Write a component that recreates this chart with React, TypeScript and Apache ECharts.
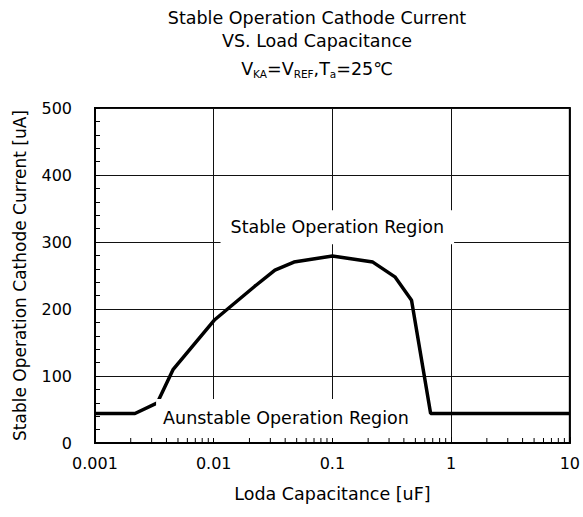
import React, { useEffect, useRef } from 'react';
import * as echarts from 'echarts';

// Load capacitance [uF] and stable operation cathode current [uA]
const capacitance = [0.001, 0.00217, 0.00335, 0.00456, 0.0102, 0.0222, 0.0328, 0.0474, 0.1, 0.219, 0.336, 0.464, 0.672, 10];
const current = [44, 44, 60, 110, 184, 234, 258, 270, 279, 270, 248, 213, 44, 44];

// Log-axis minor tick values (2..9 in each decade)
const minorTickValues = [
  0.002, 0.003, 0.004, 0.005, 0.006, 0.007, 0.008, 0.009,
  0.02, 0.03, 0.04, 0.05, 0.06, 0.07, 0.08, 0.09,
  0.2, 0.3, 0.4, 0.5, 0.6, 0.7, 0.8, 0.9,
  2, 3, 4, 5, 6, 7, 8, 9,
];

// Region annotations (anchor in data coordinates)
const regionLabels = ['Stable Operation Region', 'Aunstable Operation Region'];
const regionLabelX = [0.11, 0.0406];
const regionLabelY = [322, 36.6];

const titleLines = ['Stable Operation Cathode Current', 'VS. Load Capacitance'];
const xAxisName = 'Loda Capacitance [uF]';
const yAxisName = 'Stable Operation Cathode Current [uA]';

const FONT = 'DejaVu Sans';

export default function App() {
  const ref = useRef<HTMLDivElement>(null);

  useEffect(() => {
    if (!ref.current) return;
    const chart = echarts.init(ref.current, undefined, { renderer: 'svg' });
    const titleStyle = {
      fontFamily: FONT,
      fontSize: 17.5,
      fontWeight: 'normal' as const,
      color: '#000',
      lineHeight: 21,
    };
    const lineData = capacitance.map((c, i) => [c, current[i]]);
    const paddings = [
      [8, 10, 5, 10],
      [7, 7, 11, 7],
    ];
    chart.setOption({
      animation: false,
      backgroundColor: '#fff',
      textStyle: { fontFamily: FONT },
      title: [
        { text: titleLines[0], left: 317, top: 7, textAlign: 'center', padding: 0, textStyle: titleStyle },
        { text: titleLines[1], left: 317, top: 30, textAlign: 'center', padding: 0, textStyle: titleStyle },
        {
          text: '{v|V}{s|KA}{v|=V}{s|REF}{v|,T}{s|a}{v|=25℃}',
          left: 317,
          top: 58.5,
          textAlign: 'center',
          padding: 0,
          textStyle: {
            ...titleStyle,
            rich: {
              v: { fontFamily: FONT, fontSize: 17.5, color: '#000', lineHeight: 21 },
              s: { fontFamily: FONT, fontSize: 10.5, color: '#000', lineHeight: 11, verticalAlign: 'bottom' },
            },
          },
        },
      ],
      grid: {
        left: 95,
        right: 13,
        top: 108,
        bottom: 74,
        show: true,
        borderColor: '#000',
        borderWidth: 2,
        backgroundColor: 'transparent',
      },
      xAxis: {
        type: 'log',
        logBase: 10,
        min: 0.001,
        max: 10,
        name: xAxisName,
        nameLocation: 'middle',
        nameGap: 42,
        nameTextStyle: { fontFamily: FONT, fontSize: 17.5, color: '#000' },
        axisLine: { show: true, lineStyle: { color: '#000', width: 2 } },
        axisTick: { show: true, inside: true, length: 6, lineStyle: { color: '#000' } },
        axisLabel: {
          fontFamily: FONT,
          fontSize: 16,
          color: '#000',
          margin: 12,
          formatter: (v: number) => String(parseFloat(v.toPrecision(3))),
        },
        splitLine: { show: true, lineStyle: { color: '#111', width: 1 } },
      },
      yAxis: {
        type: 'value',
        min: 0,
        max: 500,
        interval: 100,
        name: yAxisName,
        nameLocation: 'middle',
        nameGap: 67,
        nameTextStyle: { fontFamily: FONT, fontSize: 17, color: '#000' },
        axisLine: { show: true, lineStyle: { color: '#000', width: 2 } },
        axisTick: { show: true, inside: true, length: 5, lineStyle: { color: '#000' } },
        minorTick: { show: true, splitNumber: 5, length: 5, lineStyle: { color: '#000', width: 1 } },
        axisLabel: { fontFamily: FONT, fontSize: 16, color: '#000', margin: 23 },
        splitLine: { show: true, lineStyle: { color: '#111', width: 1 } },
      },
      series: [
        {
          type: 'line',
          data: lineData,
          symbol: 'none',
          lineStyle: { color: '#000', width: 3.5 },
          z: 2,
          markPoint: {
            z: 5,
            symbol: 'circle',
            symbolSize: 1,
            itemStyle: { color: 'rgba(0,0,0,0)' },
            data: regionLabels.map((t, i) => ({
              coord: [regionLabelX[i], regionLabelY[i]],
              label: {
                show: true,
                position: 'inside',
                formatter: t,
                fontFamily: FONT,
                fontSize: 17.5,
                color: '#000',
                lineHeight: 21,
                backgroundColor: '#fff',
                padding: paddings[i],
              },
            })),
          },
        },
        {
          type: 'custom',
          z: 6,
          silent: true,
          data: minorTickValues.map((v) => [v, 0]),
          renderItem: (_params: any, api: any) => {
            const p = api.coord([api.value(0), 0]);
            return {
              type: 'line',
              shape: { x1: p[0], y1: p[1], x2: p[0], y2: p[1] - 5 },
              style: { stroke: '#000', lineWidth: 1 },
            };
          },
        },
      ],
    });
    return () => chart.dispose();
  }, []);

  return (
    <div
      ref={ref}
      style={{ position: 'absolute', left: 0, top: 0, width: 583, height: 517 }}
    />
  );
}
